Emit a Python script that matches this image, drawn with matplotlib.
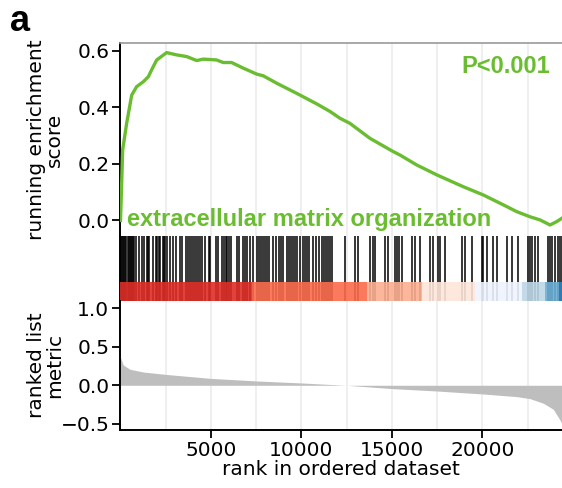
import matplotlib.pyplot as plt

# running enrichment score
es_rank = [0, 60, 120, 340, 620, 895, 1260, 1540, 1720, 2000, 2550, 3100, 3660,
           4210, 4580, 5310, 5680, 6140, 6790, 7530, 7890, 8630, 9740, 10840,
           11580, 12130, 12680, 13790, 15080, 15450, 16370, 17480, 18950, 20050,
           21160, 21900, 22630, 23180, 23740, 24110, 24400]
es_score = [0.0, 0.12, 0.249, 0.343, 0.443, 0.473, 0.49, 0.508, 0.532, 0.567,
            0.593, 0.585, 0.579, 0.565, 0.570, 0.567, 0.558, 0.558, 0.538, 0.517,
            0.511, 0.485, 0.449, 0.412, 0.385, 0.361, 0.343, 0.29, 0.243, 0.231,
            0.196, 0.161, 0.119, 0.09, 0.055, 0.031, 0.013, 0.002, -0.016, -0.004,
            0.008]

# ranked list metric (grey area)
metric_rank = [0, 155, 525, 1260, 2460, 4950, 7530, 10010, 12130, 12500, 15080,
               17480, 20050, 21900, 22630, 23370, 23920, 24290, 24400]
metric_value = [0.36, 0.263, 0.207, 0.172, 0.142, 0.09, 0.056, 0.03, 0.004, 0.0,
                -0.044, -0.074, -0.113, -0.147, -0.173, -0.233, -0.311, -0.45, -0.5]

# ranks of the genes of the set
hit_rank = [30, 90, 150, 210, 270, 330, 390, 450, 510, 570, 630, 690, 750,
            857, 1041, 1170, 1317, 1446, 1520, 1594, 1778, 1962, 2036, 2109, 2183,
            2330, 2404, 2478, 2551, 2736, 2883, 3067, 3288, 3380, 3620, 3730, 3841,
            3933, 4062, 4172, 4301, 4412, 4522, 4688, 4872, 4946, 5276, 5388, 5591,
            5701, 5812, 5904, 6014, 6125, 6420, 6567, 6752, 6862, 7010, 7140, 7341,
            7525, 7636, 7746, 7857, 7968, 8077, 8225, 8446, 8593, 8777, 8888, 8998,
            9183, 9293, 9404, 9514, 9643, 9772, 9901, 10067, 10177, 10288, 10398,
            10656, 10804, 10951, 11117, 11227, 11338, 11448, 11559, 11690,
            12408, 12961, 13143, 13790, 13928, 14066, 14619, 14801, 15172, 15282,
            15393, 15542, 16095, 16277, 16553, 17106, 17288, 17565, 17659, 17935,
            18858, 19041, 19411, 19964, 20052, 20240, 20605, 20793, 21345, 21622,
            21986, 22539, 22633, 22727, 22910, 23092, 23644, 23738, 23832, 24015,
            24197, 24291, 24374]

# colour bar below the hits
bar_start = [0, 7250, 13600, 16650, 19600, 22200, 23460, 24250]
bar_end = [7250, 13600, 16650, 19600, 22200, 23460, 24250, 24400]
bar_color = ['#DE2D26', '#FB6A4A', '#FCAE91', '#FEE5D9',
             '#EFF3FF', '#BDD7E7', '#6BAED6', '#3182BD']

n_genes = 24400
set_name = "extracellular matrix organization"
p_text = "P<0.001"
green = "#6ABD30"
grid_x = [2500, 5000, 7500, 10000, 12500, 15000, 17500, 20000, 22500]

plt.rcParams['font.family'] = 'DejaVu Sans'
plt.rcParams['font.size'] = 14.5

fig = plt.figure(figsize=(5.62, 4.88), dpi=100)
ax1 = fig.add_axes([0.2144, 0.5164, 0.7856, 0.3955])
ax2 = fig.add_axes([0.2144, 0.3832, 0.7856, 0.1332])
ax3 = fig.add_axes([0.2144, 0.1189, 0.7856, 0.2643])

for ax in (ax1, ax2, ax3):
    ax.set_xlim(0, n_genes)
    for g in grid_x:
        ax.axvline(g, color='#EBEBEB', lw=1.1, zorder=0)
    ax.spines['right'].set_visible(False)
    ax.spines['left'].set_linewidth(1.4)
    ax.tick_params(axis='both', length=6, width=1.3, pad=2, labelcolor='black')

# top: running score
ax1.plot(es_rank, es_score, color=green, lw=2.4, zorder=3)
ax1.set_ylim(-0.055, 0.627)
ax1.set_yticks([0.0, 0.2, 0.4, 0.6])
ax1.set_xticks([])
ax1.spines['top'].set_color('#9A9A9A')
ax1.spines['top'].set_linewidth(1.2)
ax1.spines['bottom'].set_visible(False)
ax1.set_ylabel("running enrichment\nscore", linespacing=0.9)
ax1.yaxis.set_label_coords(-0.128, 0.5)
ax1.text(0.0147, 0.052, set_name, transform=ax1.transAxes, color=green,
         family='Liberation Sans', weight='bold', size=17, va='baseline')
ax1.text(0.9728, 0.845, p_text, transform=ax1.transAxes, color=green,
         family='Liberation Sans', weight='bold', size=17, ha='right', va='baseline')

# middle: hits and colour bar
ax2.vlines(hit_rank, 0, 1, color='black', lw=1.1, zorder=2)
for s, e, c in zip(bar_start, bar_end, bar_color):
    ax2.bar(s, 0.29, width=e - s, bottom=0, align='edge', color=c, alpha=0.9,
            lw=0, zorder=3)
ax2.set_ylim(0, 1)
ax2.set_xticks([])
ax2.set_yticks([])
ax2.spines['top'].set_visible(False)
ax2.spines['bottom'].set_visible(False)

# bottom: ranked list metric
ax3.fill_between(metric_rank, 0, metric_value, color='#BEBEBE', lw=0, zorder=2)
ax3.set_ylim(-0.579, 1.092)
ax3.set_yticks([-0.5, 0.0, 0.5, 1.0])
ax3.set_xticks([5000, 10000, 15000, 20000])
ax3.spines['top'].set_visible(False)
ax3.spines['bottom'].set_linewidth(1.4)
ax3.set_ylabel("ranked list\nmetric", linespacing=0.9)
ax3.yaxis.set_label_coords(-0.128, 0.5)
ax3.set_xlabel("rank in ordered dataset", labelpad=0)

fig.text(0.018, 0.9365, "a", family='Liberation Sans', weight='bold', size=26)

fig.savefig("out.png", dpi=100)
